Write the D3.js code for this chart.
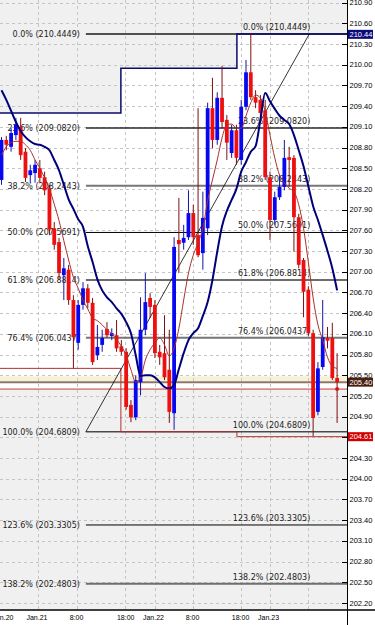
<!DOCTYPE html>
<html>
<head>
<meta charset="utf-8">
<script src="https://cdn.jsdelivr.net/npm/d3@7"></script>
<style>
  html, body { margin: 0; padding: 0; background: #fff; }
  svg { display: block; }
</style>
</head>
<body>
<div id="chart"></div>
<script>
// H1 candles, oldest first: [open, high, low, close]
const candles = [
  [208.33, 208.95, 208.26, 208.91], [208.91, 208.97, 208.76, 208.84], [208.81, 209.08, 208.74, 209.01],
  [208.98, 209.23, 208.91, 209.13], [209.10, 209.23, 208.62, 208.69], [208.74, 208.79, 208.30, 208.36],
  [208.40, 208.55, 208.29, 208.47], [208.43, 208.62, 208.29, 208.55], [208.50, 208.62, 208.30, 208.36],
  [208.37, 208.45, 208.11, 208.18], [208.21, 208.26, 207.53, 207.61], [207.63, 207.72, 207.32, 207.39],
  [207.43, 207.49, 206.88, 206.98], [206.95, 207.20, 206.59, 207.05], [207.03, 207.10, 206.52, 206.59],
  [206.59, 206.66, 205.60, 206.05], [205.97, 206.59, 205.87, 206.52], [206.52, 206.85, 206.45, 206.76],
  [206.76, 206.82, 206.47, 206.55], [206.55, 206.62, 205.65, 205.69], [205.79, 206.23, 205.72, 205.91],
  [205.94, 206.16, 205.84, 206.04], [206.17, 206.27, 206.04, 206.08], [206.07, 206.18, 206.01, 206.11],
  [206.08, 206.30, 205.84, 205.89], [205.92, 206.01, 205.79, 205.84], [205.84, 205.89, 205.00, 205.04],
  [205.07, 205.14, 204.82, 204.89], [204.89, 205.50, 204.85, 205.43], [205.40, 206.63, 205.21, 206.16],
  [206.16, 206.98, 206.08, 206.56], [206.62, 206.69, 206.33, 206.49], [206.52, 206.59, 205.75, 205.82],
  [205.84, 205.94, 205.65, 205.76], [205.82, 206.37, 205.43, 205.47], [205.58, 206.16, 204.81, 204.97],
  [204.95, 207.50, 204.71, 207.36], [207.46, 208.07, 206.98, 207.40], [207.42, 207.68, 207.32, 207.49],
  [207.50, 208.18, 207.46, 207.85], [207.85, 207.97, 207.39, 207.50], [207.53, 209.37, 207.21, 207.24],
  [207.27, 208.16, 207.03, 207.78], [207.63, 209.45, 207.53, 209.37], [209.37, 209.81, 208.79, 208.91],
  [208.91, 209.60, 208.84, 209.52], [209.52, 209.98, 209.08, 209.17], [209.20, 209.27, 208.62, 208.87],
  [208.72, 209.13, 208.65, 209.05], [209.05, 209.13, 208.55, 208.65], [208.62, 209.49, 208.55, 209.39],
  [209.39, 210.07, 209.34, 209.89], [209.89, 210.46, 209.49, 209.53], [209.53, 209.63, 209.37, 209.45],
  [209.49, 209.56, 209.23, 209.30], [209.34, 209.49, 208.33, 208.37], [208.37, 208.45, 207.46, 207.75],
  [207.75, 208.16, 207.68, 208.08], [208.08, 208.40, 208.04, 208.23], [208.23, 208.91, 208.18, 208.65],
  [208.66, 208.81, 208.23, 208.62], [208.65, 208.69, 207.29, 207.79], [207.79, 207.84, 207.05, 207.10],
  [207.17, 207.20, 206.34, 206.71], [206.74, 206.79, 206.07, 206.11], [206.11, 206.16, 204.62, 204.88],
  [204.97, 205.69, 204.92, 205.60], [205.62, 206.59, 205.58, 206.05], [206.04, 206.20, 205.89, 206.00],
  [206.04, 206.26, 205.43, 205.46], [205.46, 205.82, 204.81, 205.40]
];

// slow moving average (navy), one value per candle
const slowMa = [
  209.63, 209.49, 209.33, 209.17, 209.04, 208.95, 208.89, 208.85, 208.84, 208.81,
  208.76, 208.62, 208.47, 208.26, 208.05, 207.91, 207.76, 207.65, 207.37, 207.14,
  206.89, 206.73, 206.63, 206.56, 206.47, 206.39, 206.27, 206.11, 205.79, 205.49,
  205.50, 205.50, 205.47, 205.40, 205.33, 205.31, 205.36, 205.59, 205.82, 206.01,
  206.11, 206.18, 206.36, 206.56, 206.88, 207.29, 207.66, 207.88, 208.04, 208.20,
  208.45, 208.59, 208.74, 208.82, 209.20, 209.59, 209.47, 209.36, 209.26, 209.20,
  209.14, 208.98, 208.76, 208.53, 208.24, 207.95, 207.75, 207.53, 207.30, 207.05,
  206.73
];

// fast moving average (thin brown-red)
const fastMa = [
  208.69, 208.81, 208.87, 208.89, 208.89, 208.84, 208.76, 208.62, 208.50, 208.36,
  208.20, 207.98, 207.74, 207.45, 207.17, 206.92, 206.76, 206.59, 206.46, 206.33,
  206.29, 206.23, 206.16, 206.10, 206.02, 205.92, 205.79, 205.58, 205.40, 205.46,
  205.72, 205.87, 205.97, 206.04, 205.94, 205.78, 205.89, 206.18, 206.59, 206.98,
  207.24, 207.42, 207.63, 208.03, 208.33, 208.62, 208.94, 209.13, 209.14, 209.08,
  209.08, 209.26, 209.45, 209.56, 209.52, 209.32, 208.98, 208.65, 208.40, 208.29,
  208.21, 208.16, 207.97, 207.63, 207.14, 206.62, 206.23, 206.01, 205.76, 205.63,
  205.60
];

// Fibonacci retracement
const fibLevels = ["0.0%", "23.6%", "38.2%", "50.0%", "61.8%", "76.4%", "100.0%", "123.6%", "138.2%"];
const fibPrices = [210.4449, 209.0820, 208.2443, 207.5691, 206.8814, 206.0437, 204.6809, 203.3305, 202.4803];
const fibAnchorIdx = [17.6, 64.2];           // candle index of the 100% and 0% anchors

// zone outlines (candle index, price)
const upperZoneIdx = [-1, 24.9, 24.9, 49.1, 49.1, 73];
const upperZonePrice = [209.30, 209.30, 209.95, 209.95, 210.4449, 210.4449];
const lowerZoneIdx = [-1, 24.9, 24.9, 49.1, 49.1, 73];
const lowerZonePrice = [205.60, 205.60, 204.6809, 204.6809, 204.61, 204.61];

// price axis
const priceTicks = [202.2, 202.5, 202.8, 203.1, 203.4, 203.7, 204.0, 204.3, 204.6, 204.9,
  205.2, 205.5, 205.8, 206.1, 206.4, 206.7, 207.0, 207.3, 207.6, 207.9,
  208.2, 208.5, 208.8, 209.1, 209.4, 209.7, 210.0, 210.3, 210.6, 210.9];
const bidPrice = 205.40;
const askPrice = 205.30;
const markerPrices = [210.44, 205.40, 204.61];
const markerColors = ["#0a0a7a", "#4a1f12", "#d40000"];

// time axis
const timeLabels = ["Jan.20", "Jan.21", "8:00", "18:00", "Jan.22", "8:00", "18:00", "Jan.23"];
const timeIdx = [0.3, 7.4, 15.65, 25.9, 31.7, 39.85, 49.86, 55.7];
const gridIdx = [7.6, 15.65, 25.8, 32.0, 39.85, 49.9, 56.0, 64.0];

const W = 375, H = 625;
const plotRight = 347, plotBottom = 609.5;

const svg = d3.select("#chart").append("svg")
  .attr("width", W).attr("height", H)
  .style("font-family", "'DejaVu Sans', sans-serif");

const x = d3.scaleLinear().domain([0, candles.length - 1]).range([1.5, 337.1]);
const y = d3.scaleLinear().domain([202.2, 210.6]).range([603, 23.3]);

svg.append("defs").append("clipPath").attr("id", "plot")
  .append("rect").attr("x", 0).attr("y", 0).attr("width", plotRight).attr("height", plotBottom);

const plot = svg.append("g").attr("clip-path", "url(#plot)");

// Background
plot.append("rect").attr("width", plotRight).attr("height", plotBottom).attr("fill", "#fff");

// Grey zones: top stair and bottom band
const upperPts = upperZoneIdx.map((d, k) => [x(d), y(upperZonePrice[k])]);
plot.append("path")
  .attr("d", d3.line()([[x(-1), -1], ...upperPts, [x(73), -1]]) + "Z")
  .attr("fill", "#f0f0f0");
plot.append("rect")
  .attr("x", 0).attr("y", y(askPrice))
  .attr("width", plotRight).attr("height", plotBottom - y(askPrice))
  .attr("fill", "#f0f0f0");
plot.append("rect")
  .attr("x", 0).attr("y", y(205.485))
  .attr("width", plotRight).attr("height", y(205.415) - y(205.485))
  .attr("fill", "#f6f2d8");

// Grid
plot.append("g").selectAll("line").data(priceTicks).join("line")
  .attr("x1", 0).attr("x2", plotRight)
  .attr("y1", d => Math.round(y(d)) + 0.5).attr("y2", d => Math.round(y(d)) + 0.5)
  .attr("stroke", "#c4c4c4").attr("stroke-dasharray", "3,3");
plot.append("g").selectAll("line").data(gridIdx).join("line")
  .attr("x1", d => Math.round(x(d)) + 0.5).attr("x2", d => Math.round(x(d)) + 0.5)
  .attr("y1", 0).attr("y2", plotBottom)
  .attr("stroke", "#c4c4c4").attr("stroke-dasharray", "3,3");

// Fib level lines
const fibColors = ["#505050", "#2a2a2a", "#767676", "#000", "#3c3c3c", "#767676", "#4a4a4a", "#000", "#6e6e6e"];
const fibWidths = [2, 1.5, 2, 1, 1.5, 2, 1.5, 1, 2];
plot.append("g").selectAll("line").data(fibPrices).join("line")
  .attr("x1", x(fibAnchorIdx[0])).attr("x2", plotRight)
  .attr("y1", d => y(d)).attr("y2", d => y(d))
  .attr("stroke", (d, k) => fibColors[k]).attr("stroke-width", (d, k) => fibWidths[k]);

// Bid / ask lines
plot.append("line")
  .attr("x1", 0).attr("x2", plotRight)
  .attr("y1", y(bidPrice)).attr("y2", y(bidPrice))
  .attr("stroke", "#8f7468").attr("stroke-width", 2);
plot.append("line")
  .attr("x1", 0).attr("x2", plotRight)
  .attr("y1", y(askPrice)).attr("y2", y(askPrice))
  .attr("stroke", "#c83a3a").attr("stroke-width", 1);

// Zone outlines
plot.append("path")
  .attr("d", d3.line()(upperPts))
  .attr("fill", "none").attr("stroke", "#0b0b6e").attr("stroke-width", 1.5);
plot.append("path")
  .attr("d", d3.line()(lowerZoneIdx.map((d, k) => [x(d), y(lowerZonePrice[k])])))
  .attr("fill", "none").attr("stroke", "#b03232").attr("stroke-width", 1);

// Fib trend line
plot.append("line")
  .attr("x1", x(fibAnchorIdx[0])).attr("y1", y(fibPrices[6]))
  .attr("x2", x(fibAnchorIdx[1])).attr("y2", y(fibPrices[0]))
  .attr("stroke", "#000").attr("stroke-width", 0.8);

// Fib labels (drawn under the candles): left of the lines and above them at the right anchor
const fibText = fibLevels.map((l, k) => `${l}  (${fibPrices[k].toFixed(4)})`);
const labelG = plot.append("g")
  .style("font-size", "8px").style("white-space", "pre").attr("fill", "#1c1c1c");
labelG.selectAll("text.left").data(fibText).join("text")
  .attr("class", "left")
  .attr("x", x(fibAnchorIdx[0]) - 6)
  .attr("y", (d, k) => y(fibPrices[k]) + 3)
  .attr("text-anchor", "end")
  .text(d => d);
labelG.selectAll("text.right").data(fibText).join("text")
  .attr("class", "right")
  .attr("x", x(fibAnchorIdx[1]) + 1)
  .attr("y", (d, k) => y(fibPrices[k]) - 4)
  .attr("text-anchor", "end")
  .text(d => d);

// Candles
const bodyW = 3.8;
const cg = plot.append("g");
cg.selectAll("line").data(candles).join("line")
  .attr("x1", (d, i) => x(i)).attr("x2", (d, i) => x(i))
  .attr("y1", d => y(d[1])).attr("y2", d => y(d[2]))
  .attr("stroke", d => d[3] >= d[0] ? "#1414a8" : "#7c1010")
  .attr("stroke-width", 1);
cg.selectAll("rect").data(candles).join("rect")
  .attr("x", (d, i) => x(i) - bodyW / 2)
  .attr("width", bodyW)
  .attr("y", d => y(Math.max(d[0], d[3])))
  .attr("height", d => Math.max(1.2, Math.abs(y(d[0]) - y(d[3]))))
  .attr("fill", d => d[3] >= d[0] ? "#0808f0" : "#ee1010");

// Moving averages
const maLine = d3.line().x((d, i) => x(i)).y(d => y(d)).curve(d3.curveMonotoneX);
plot.append("path").attr("d", maLine(fastMa))
  .attr("fill", "none").attr("stroke", "#a8322c").attr("stroke-width", 1);
plot.append("path").attr("d", maLine(slowMa))
  .attr("fill", "none").attr("stroke", "#00007a").attr("stroke-width", 2);

// Last price dot on the ask line
plot.append("circle")
  .attr("cx", x(candles.length - 1)).attr("cy", y(askPrice)).attr("r", 2)
  .attr("fill", "#d01818");

// Price axis
const axisG = svg.append("g")
  .style("font-family", "'Liberation Sans', Arial, sans-serif")
  .style("font-size", "7.5px");
axisG.append("line")
  .attr("x1", plotRight + 0.5).attr("x2", plotRight + 0.5)
  .attr("y1", 0).attr("y2", H)
  .attr("stroke", "#000");
axisG.selectAll("line.tick").data(priceTicks).join("line")
  .attr("class", "tick")
  .attr("x1", plotRight - 5).attr("x2", plotRight + 1)
  .attr("y1", d => Math.round(y(d)) + 0.5).attr("y2", d => Math.round(y(d)) + 0.5)
  .attr("stroke", "#000");
axisG.selectAll("text.price").data(priceTicks).join("text")
  .attr("class", "price")
  .attr("x", plotRight + 2.5)
  .attr("y", d => y(d) + 2.6)
  .attr("fill", "#000")
  .text(d => d.toFixed(2));

// Price markers on the axis
const marks = axisG.selectAll("g.mark").data(markerPrices).join("g")
  .attr("class", "mark")
  .attr("transform", d => `translate(${plotRight + 1},${y(d)})`);
marks.append("rect")
  .attr("x", 0).attr("y", -4.5).attr("width", 25).attr("height", 9)
  .attr("fill", (d, k) => markerColors[k]);
marks.append("text")
  .attr("x", 1.5).attr("y", 2.7)
  .attr("fill", "#fff")
  .text(d => d.toFixed(2));

// Time axis
svg.append("line")
  .attr("x1", 0).attr("x2", W)
  .attr("y1", plotBottom + 0.5).attr("y2", plotBottom + 0.5)
  .attr("stroke", "#000").attr("stroke-width", 1.5);
axisG.selectAll("text.time").data(timeLabels).join("text")
  .attr("class", "time")
  .attr("x", (d, k) => x(timeIdx[k]))
  .attr("y", 620)
  .attr("text-anchor", "middle")
  .style("font-size", "7px")
  .attr("fill", "#000")
  .text(d => d);
</script>
</body>
</html>
